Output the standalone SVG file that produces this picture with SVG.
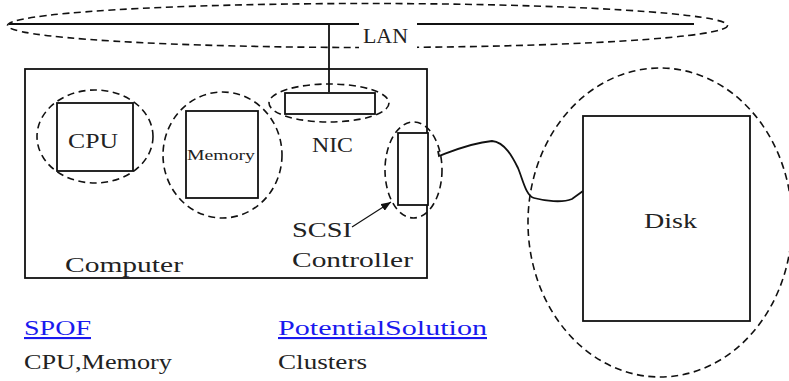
<svg xmlns="http://www.w3.org/2000/svg" width="789" height="381" viewBox="0 0 789 381">
<style>
.dash{fill:none;stroke:#111;stroke-width:1.6;stroke-dasharray:7,4.5}
.box{fill:#fff;stroke:#111;stroke-width:1.8}
.ln{fill:none;stroke:#111;stroke-width:1.8}
.t{font-family:"Liberation Serif",serif;font-size:21px;fill:#222}
.lk{font-family:"Liberation Serif",serif;font-size:21px;fill:#1a1aee;text-decoration:underline}
</style>
<defs>
<marker id="ah" markerWidth="10" markerHeight="8" refX="10" refY="4" orient="auto" markerUnits="userSpaceOnUse">
<path d="M0,0 L10,4 L0,8 Z" fill="#111"/>
</marker>
</defs>
<rect width="789" height="381" fill="#fff"/>
<g id="lan">
<ellipse class="dash" cx="367.5" cy="25.5" rx="360" ry="22"/>
<rect x="359" y="30" width="58" height="22" fill="#fff"/>
<line class="ln" x1="9" y1="24" x2="359" y2="24"/>
<line class="ln" x1="417" y1="24" x2="694" y2="24"/>
<text class="t" x="363" y="43" style="font-size:20px" textLength="45" lengthAdjust="spacingAndGlyphs">LAN</text>
</g>
<g id="computer">
<rect class="box" x="25" y="69" width="402" height="209"/>
<text class="t" x="65" y="272" textLength="118" lengthAdjust="spacingAndGlyphs">Computer</text>
</g>
<g id="cpu">
<ellipse class="dash" cx="95" cy="136.5" rx="58" ry="46.5"/>
<rect class="box" x="57" y="103" width="76" height="68"/>
<text class="t" x="68" y="148" textLength="50" lengthAdjust="spacingAndGlyphs">CPU</text>
</g>
<g id="memory">
<ellipse class="dash" cx="222.5" cy="155" rx="59.5" ry="63"/>
<rect class="box" x="186" y="111" width="72" height="87"/>
<text class="t" x="187" y="160" style="font-size:15px" textLength="68" lengthAdjust="spacingAndGlyphs">Memory</text>
</g>
<g id="nic">
<ellipse class="dash" cx="329" cy="103" rx="60" ry="19"/>
<rect class="box" x="285" y="93" width="90" height="21"/>
<text class="t" x="312" y="152" textLength="41" lengthAdjust="spacingAndGlyphs">NIC</text>
</g>
<g id="scsi">
<ellipse class="dash" cx="413.5" cy="170" rx="28.5" ry="48"/>
<rect class="box" x="398" y="133" width="30" height="72"/>
<text class="t" x="292" y="237" textLength="60" lengthAdjust="spacingAndGlyphs">SCSI</text>
<text class="t" x="292" y="267" textLength="121" lengthAdjust="spacingAndGlyphs">Controller</text>
</g>
<g id="disk">
<ellipse class="dash" cx="660" cy="222.5" rx="132" ry="154.5"/>
<rect class="box" x="583" y="116" width="167" height="205"/>
<text class="t" x="644" y="228" textLength="53" lengthAdjust="spacingAndGlyphs">Disk</text>
</g>
<g id="connectors">
<line class="ln" x1="329" y1="24" x2="329" y2="92"/>
<line class="ln" x1="352" y1="227" x2="391" y2="202" style="stroke-width:1.2" marker-end="url(#ah)"/>
<path class="ln" d="M438,151 L439,156 C450,152 470,143 492,141 C505,142 513,158 518,168 C523,180 526,196 534,198 C545,201 562,203 572,199 L583,191"/>
</g>
<g id="notes">
<text class="lk" x="24" y="335" textLength="67" lengthAdjust="spacingAndGlyphs">SPOF</text>
<text class="t" x="24" y="369" textLength="148" lengthAdjust="spacingAndGlyphs">CPU,Memory</text>
<text class="lk" x="278" y="335" textLength="209" lengthAdjust="spacingAndGlyphs">PotentialSolution</text>
<text class="t" x="278" y="369" textLength="89" lengthAdjust="spacingAndGlyphs">Clusters</text>
</g>
</svg>
